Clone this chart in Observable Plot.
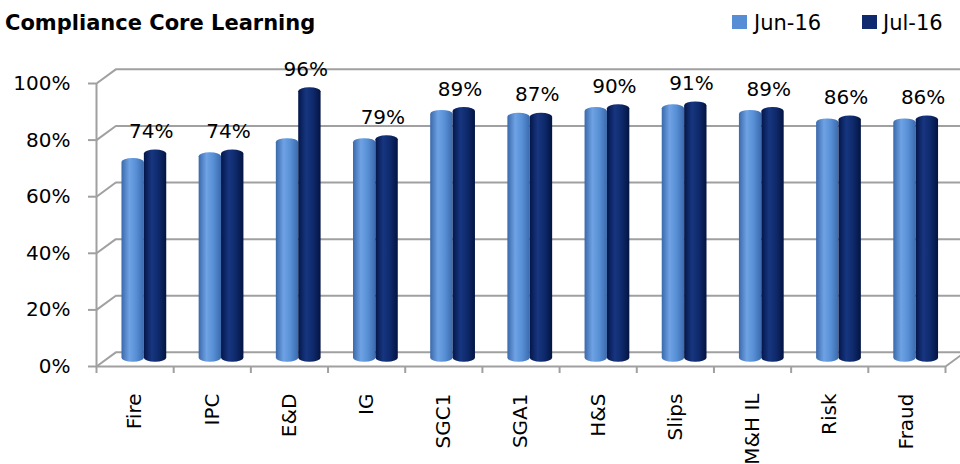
<!DOCTYPE html>
<html>
<head>
<meta charset="utf-8">
<script src="https://cdn.jsdelivr.net/npm/d3@7"></script>
<script src="https://cdn.jsdelivr.net/npm/@observablehq/plot@0.6"></script>
<style>
  html, body { margin: 0; padding: 0; background: #fff; }
  #wrap { position: relative; width: 960px; height: 464px; overflow: hidden; font-family: "DejaVu Sans", sans-serif; }
  #title { position: absolute; left: 5px; top: 13px; font-size: 21px; line-height: 21px; font-weight: bold; color: #000; white-space: nowrap; }
  .leg { position: absolute; top: 13px; font-size: 21px; line-height: 21px; color: #000; white-space: nowrap; }
  .sw { position: absolute; top: 15px; width: 15px; height: 14px; }
  #chart { position: absolute; left: 0; top: 0; }
</style>
</head>
<body>
<div id="wrap">
  <div id="chart"></div>
  <div id="title">Compliance Core Learning</div>
  <div class="sw" id="sw0" style="left:732px"></div>
  <div class="leg" id="lg0" style="left:754px"></div>
  <div class="sw" id="sw1" style="left:862px"></div>
  <div class="leg" id="lg1" style="left:883px"></div>
</div>
<script>
// ---- data ----
const categories = ["Fire", "IPC", "E&D", "IG", "SGC1", "SGA1", "H&S", "Slips", "M&H IL", "Risk", "Fraud"];
const seriesNames = ["Jun-16", "Jul-16"];
const jun16 = [0.71, 0.73, 0.78, 0.78, 0.88, 0.87, 0.89, 0.90, 0.88, 0.85, 0.85];
const jul16 = [0.74, 0.74, 0.96, 0.79, 0.89, 0.87, 0.90, 0.91, 0.89, 0.86, 0.86];
const yTicks = [0, 0.2, 0.4, 0.6, 0.8, 1];

// ---- style ----
const colJun = "#558ed5";
const colJul = "#0f2a6e";
const gridCol = "#a0a0a0";
const depthX = 0.25;   // 3-D depth, in category units
const depthY = 0.05;   // 3-D depth, in value units
const barW = 0.29;
const n = categories.length;

document.getElementById("sw0").style.background = colJun;
document.getElementById("sw1").style.background = colJul;
document.getElementById("lg0").textContent = seriesNames[0];
document.getElementById("lg1").textContent = seriesNames[1];

const idx = d3.range(n);
const pct = d => Math.round(d * 100) + "%";

const plot = Plot.plot({
  width: 960,
  height: 464,
  marginLeft: 96,
  marginRight: 15,
  marginTop: 83,
  marginBottom: 98,
  style: { fontFamily: "DejaVu Sans, sans-serif", fontSize: "20px", color: "#000", background: "transparent" },
  x: { type: "linear", domain: [0, n] },
  y: { type: "linear", domain: [0, 1] },
  marks: [
    // back wall gridlines
    Plot.ruleY(yTicks, { y: d => d + depthY, x1: depthX, x2: n + depthX, stroke: gridCol, strokeWidth: 2 }),
    // side wall connectors
    Plot.link(yTicks, { x1: 0, y1: d => d, x2: depthX, y2: d => d + depthY, stroke: gridCol, strokeWidth: 2 }),
    // floor right edge
    Plot.link([0], { x1: n, y1: 0, x2: n + depthX, y2: depthY, stroke: gridCol, strokeWidth: 2 }),
    // front floor line
    Plot.ruleY([0], { x1: 0, x2: n, stroke: gridCol, strokeWidth: 2 }),
    // y axis line
    Plot.ruleX([0], { y1: 0, y2: 1, stroke: gridCol, strokeWidth: 2 }),
    // bars
    Plot.rectY(idx, { x1: i => i + 0.33, x2: i => i + 0.33 + barW, y1: depthY * 0.3, y2: i => jun16[i] + depthY / 2, fill: "url(#gJun)", rx: 11, ry: 4 }),
    Plot.rectY(idx, { x1: i => i + 0.33 + barW, x2: i => i + 0.33 + 2 * barW, y1: depthY * 0.3, y2: i => jul16[i] + depthY / 2, fill: "url(#gJul)", rx: 11, ry: 4 }),
    // data labels
    Plot.text(idx, { x: i => i + 0.71, y: i => jul16[i] + depthY / 2, text: i => pct(jul16[i]), dy: -12, lineAnchor: "bottom", fontSize: 20, fill: "#000" }),
    // axes
    Plot.axisY({ ticks: yTicks, tickFormat: pct, tickSize: 8, tickPadding: 18, stroke: gridCol, strokeWidth: 2, fontSize: 20 }),
    Plot.axisX({ ticks: d3.range(n + 1), tickFormat: () => "", tickSize: 7, stroke: gridCol, strokeWidth: 2 }),
    Plot.axisX({ ticks: idx.map(i => i + 0.5), tickFormat: d => categories[Math.floor(d)], tickSize: 0, tickPadding: 27, tickRotate: -90, fontSize: 20 })
  ]
});

// cylinder gradients
const ns = "http://www.w3.org/2000/svg";
const defs = document.createElementNS(ns, "defs");
function grad(id, stops) {
  const g = document.createElementNS(ns, "linearGradient");
  g.setAttribute("id", id);
  g.setAttribute("x1", "0"); g.setAttribute("x2", "1"); g.setAttribute("y1", "0"); g.setAttribute("y2", "0");
  for (const [o, c] of stops) {
    const s = document.createElementNS(ns, "stop");
    s.setAttribute("offset", o);
    s.setAttribute("stop-color", c);
    g.appendChild(s);
  }
  defs.appendChild(g);
}
grad("gJun", [["0", "#3a69ab"], ["0.35", "#6ea2e4"], ["0.65", "#5890d6"], ["1", "#3b6aad"]]);
grad("gJul", [["0", "#04164a"], ["0.35", "#173680"], ["0.65", "#0f2a6c"], ["1", "#031442"]]);
plot.insertBefore(defs, plot.firstChild);

document.getElementById("chart").appendChild(plot);
</script>
</body>
</html>
